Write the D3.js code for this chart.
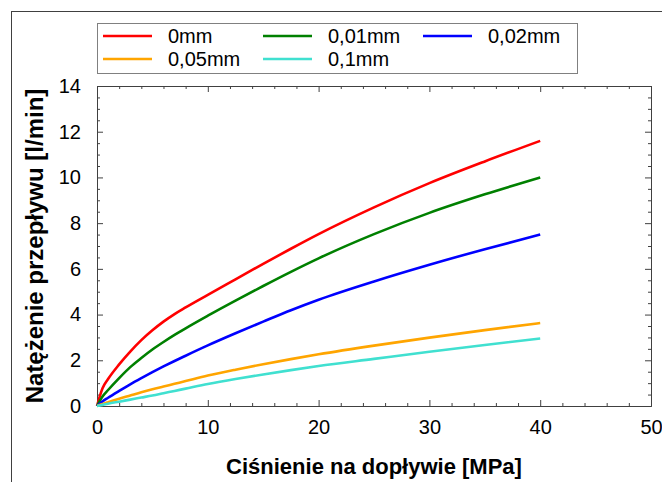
<!DOCTYPE html>
<html>
<head>
<meta charset="utf-8">
<script src="https://cdn.jsdelivr.net/npm/d3@7"></script>
<style>
  html, body { margin: 0; padding: 0; background: #fff; }
  svg { display: block; font-family: "Liberation Sans", Arial, sans-serif; }
</style>
</head>
<body>
<svg id="chart" width="662" height="482"></svg>
<script>
// ---- data ----
const pressure  = [0, 0.5, 1, 2, 3, 4, 5, 6, 7, 8, 10, 12.5, 15, 17.5, 20, 25, 30, 35, 40];
const flow0mm   = [0, 0.78, 1.18, 1.82, 2.38, 2.88, 3.31, 3.69, 4.02, 4.31, 4.86, 5.54, 6.22, 6.88, 7.52, 8.69, 9.75, 10.7, 11.6];
const flow001mm = [0, 0.42, 0.7, 1.22, 1.7, 2.1, 2.47, 2.8, 3.11, 3.4, 3.95, 4.61, 5.25, 5.87, 6.46, 7.52, 8.45, 9.26, 10.0];
const flow002mm = [0, 0.2, 0.36, 0.66, 0.95, 1.22, 1.48, 1.73, 1.97, 2.2, 2.65, 3.18, 3.69, 4.19, 4.65, 5.45, 6.18, 6.86, 7.5];
const flow005mm = [0, 0.09, 0.17, 0.32, 0.46, 0.6, 0.73, 0.85, 0.97, 1.09, 1.33, 1.59, 1.83, 2.05, 2.26, 2.64, 2.99, 3.32, 3.63];
const flow01mm  = [0, 0.05, 0.1, 0.19, 0.28, 0.37, 0.46, 0.56, 0.66, 0.76, 0.96, 1.18, 1.38, 1.57, 1.75, 2.06, 2.37, 2.67, 2.95];
const seriesNames = ["0mm", "0,01mm", "0,02mm", "0,05mm", "0,1mm"];
const seriesColors = ["#ff0000", "#008000", "#0000ff", "#ffa500", "#40e0d0"];
const xTicks = [0, 10, 20, 30, 40, 50];
const yTicks = [0, 2, 4, 6, 8, 10, 12, 14];
const xTitle = "Ciśnienie na dopływie [MPa]";
const yTitle = "Natężenie przepływu [l/min]";

const seriesValues = [flow0mm, flow001mm, flow002mm, flow005mm, flow01mm];

// ---- layout ----
const svg = d3.select("#chart");
const pLeft = 97, pRight = 651, pTop = 86, pBottom = 406;
const x = d3.scaleLinear().domain([0, 50]).range([pLeft, pRight]);
const y = d3.scaleLinear().domain([0, 14]).range([pBottom, pTop]);
const axisColor = "#404040";

// outer frame (extends off canvas)
svg.append("rect").attr("x", 11.5).attr("y", 11.5).attr("width", 700).attr("height", 520)
  .attr("fill", "none").attr("stroke", axisColor).attr("stroke-width", 1);

// minor tick values
const xMinor = d3.range(0, 50.001, 2).filter(v => v % 10 !== 0);
const yMinor = d3.range(0, 14.001, 0.5).filter(v => v % 2 !== 0);

function styleAxis(g) {
  g.select(".domain").attr("stroke", axisColor);
  g.selectAll(".tick line").attr("stroke", axisColor);
}

// bottom axis
const gx = svg.append("g").attr("transform", `translate(0,${pBottom})`)
  .call(d3.axisBottom(x).tickValues(xTicks).tickSize(-6).tickSizeOuter(0).tickPadding(14));
styleAxis(gx);
gx.selectAll("text").attr("font-size", 20).attr("fill", "#000").attr("font-family", "Liberation Sans, Arial, sans-serif");
const gxm = svg.append("g").attr("transform", `translate(0,${pBottom})`)
  .call(d3.axisBottom(x).tickValues(xMinor).tickSize(-3).tickSizeOuter(0).tickFormat(""));
styleAxis(gxm);

// top axis
const gt = svg.append("g").attr("transform", `translate(0,${pTop})`)
  .call(d3.axisTop(x).tickValues(xTicks).tickSize(-6).tickSizeOuter(0).tickFormat(""));
styleAxis(gt);
const gtm = svg.append("g").attr("transform", `translate(0,${pTop})`)
  .call(d3.axisTop(x).tickValues(xMinor).tickSize(-3).tickSizeOuter(0).tickFormat(""));
styleAxis(gtm);

// left axis
const gy = svg.append("g").attr("transform", `translate(${pLeft},0)`)
  .call(d3.axisLeft(y).tickValues(yTicks).tickSize(-6).tickSizeOuter(0).tickPadding(16));
styleAxis(gy);
gy.selectAll("text").attr("font-size", 20).attr("fill", "#000").attr("font-family", "Liberation Sans, Arial, sans-serif");
const gym = svg.append("g").attr("transform", `translate(${pLeft},0)`)
  .call(d3.axisLeft(y).tickValues(yMinor).tickSize(-3).tickSizeOuter(0).tickFormat(""));
styleAxis(gym);

// right axis
const gr = svg.append("g").attr("transform", `translate(${pRight},0)`)
  .call(d3.axisRight(y).tickValues(yTicks).tickSize(-6).tickSizeOuter(0).tickFormat(""));
styleAxis(gr);
const grm = svg.append("g").attr("transform", `translate(${pRight},0)`)
  .call(d3.axisRight(y).tickValues(yMinor).tickSize(-3).tickSizeOuter(0).tickFormat(""));
styleAxis(grm);

// lines
const line = d3.line().x((d, i) => x(pressure[i])).y(d => y(d)).curve(d3.curveMonotoneX);
seriesValues.forEach((vals, k) => {
  svg.append("path").datum(vals).attr("d", line)
    .attr("fill", "none").attr("stroke", seriesColors[k]).attr("stroke-width", 2.6)
    .attr("stroke-linejoin", "round");
});

// axis titles
svg.append("text").attr("x", (pLeft + pRight) / 2).attr("y", 474)
  .attr("text-anchor", "middle").attr("font-size", 22).attr("font-weight", "bold")
  .text(xTitle);
svg.append("text").attr("transform", `translate(43,246) rotate(-90)`)
  .attr("text-anchor", "middle").attr("font-size", 24).attr("font-weight", "bold")
  .text(yTitle);

// legend
const lg = svg.append("g");
lg.append("rect").attr("x", 97.5).attr("y", 23.5).attr("width", 480).attr("height", 50)
  .attr("fill", "#fff").attr("stroke", "#808080").attr("stroke-width", 1);
const colX = [103, 263, 423];
const rowY = [36, 59];
seriesNames.forEach((name, k) => {
  const cx = colX[k % 3], cy = rowY[Math.floor(k / 3)];
  lg.append("line").attr("x1", cx).attr("x2", cx + 49).attr("y1", cy).attr("y2", cy)
    .attr("stroke", seriesColors[k]).attr("stroke-width", 2.6);
  lg.append("text").attr("x", cx + 65).attr("y", cy).attr("dy", "0.35em")
    .attr("font-size", 20).text(name);
});
</script>
</body>
</html>
